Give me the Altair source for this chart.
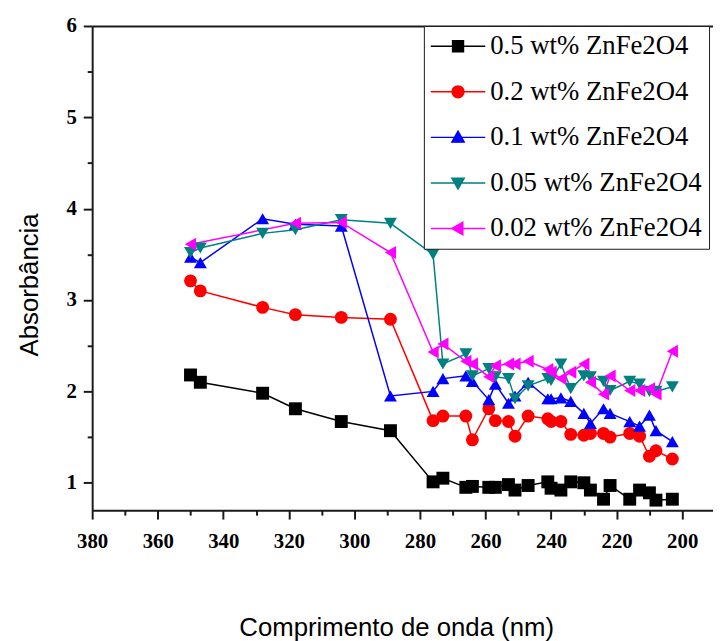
import altair as alt
import pandas as pd

# ---- data ----
wavelength = [350, 347, 328, 318, 304, 289, 276, 273, 266, 264, 259, 257, 253, 251,
              247, 241, 240, 237, 234, 230, 228, 224, 222, 216, 213, 210, 208, 203]
abs_05 = [2.18, 2.10, 1.98, 1.81, 1.67, 1.57, 1.01, 1.05, 0.95, 0.96, 0.95, 0.95, 0.98, 0.92,
          0.97, 1.01, 0.94, 0.92, 1.01, 1.00, 0.92, 0.82, 0.97, 0.82, 0.92, 0.89, 0.81, 0.82]
abs_02 = [3.21, 3.10, 2.92, 2.84, 2.81, 2.79, 1.68, 1.73, 1.73, 1.47, 1.81, 1.68, 1.67, 1.51,
          1.73, 1.70, 1.67, 1.67, 1.53, 1.52, 1.54, 1.54, 1.50, 1.54, 1.51, 1.29, 1.35, 1.26]
abs_01 = [3.47, 3.41, 3.89, 3.83, 3.81, 1.95, 2.00, 2.14, 2.17, 2.11, 1.91, 2.08, 1.87, 1.95,
          2.10, 1.92, 1.92, 1.93, 1.89, 1.76, 1.65, 1.81, 1.76, 1.67, 1.62, 1.74, 1.57, 1.45]
abs_005 = [3.52, 3.57, 3.73, 3.77, 3.88, 3.84, 3.50, 2.30, 2.41, 2.17, 2.25, 2.16, 2.14, 1.92,
           2.06, 2.14, 2.12, 2.30, 2.03, 2.17, 2.16, 2.11, 2.01, 2.11, 2.08, 2.00, 2.00, 2.05]
abs_002 = [3.61, None, None, 3.84, 3.85, 3.52, 2.43, 2.52, 2.33, 2.30, 2.16, 2.28, 2.30, 2.30,
           2.33, 2.24, 2.21, 2.14, 2.21, 2.30, 2.10, 1.97, 2.17, 2.01, 2.01, 2.03, 1.97, 2.44]

series_names = ["0.5 wt% ZnFe2O4", "0.2 wt% ZnFe2O4", "0.1 wt% ZnFe2O4",
                "0.05 wt% ZnFe2O4", "0.02 wt% ZnFe2O4"]
series_colors = ["#000000", "#ff0000", "#0000ff", "#008080", "#ff00ff"]
plot_shapes = ["square", "circle", "triangle-up", "triangle-down", "triangle-left"]
legend_shapes = [
    "M-2.75,0L2.75,0M-0.55,-0.55L0.55,-0.55L0.55,0.55L-0.55,0.55Z",
    "M-2.75,0L2.75,0M-0.6,0A0.6,0.6,0,1,0,0.6,0A0.6,0.6,0,1,0,-0.6,0Z",
    "M-2.75,0L2.75,0M-0.62,0.48L0.62,0.48L0,-0.62Z",
    "M-2.75,0L2.75,0M-0.62,-0.48L0.62,-0.48L0,0.62Z",
    "M-2.75,0L2.75,0M0.48,-0.62L0.48,0.62L-0.62,0Z",
]

x_ticks = [380, 360, 340, 320, 300, 280, 260, 240, 220, 200]
x_minor = [370, 350, 330, 310, 290, 270, 250, 230, 210]
y_ticks = [1, 2, 3, 4, 5, 6]
y_minor = [1.5, 2.5, 3.5, 4.5, 5.5]

rows = []
for name, vals in zip(series_names, [abs_05, abs_02, abs_01, abs_005, abs_002]):
    for w, v in zip(wavelength, vals):
        if v is not None:
            rows.append({"wavelength": w, "absorbance": v, "series": name})
df = pd.DataFrame(rows)

W, H = 627, 489
x_scale = alt.Scale(domain=[380, 190.6], nice=False, zero=False)
y_scale = alt.Scale(domain=[0.7, 6], nice=False, zero=False)
AX = "#1a1a1a"
SERIF = "Liberation Serif"
SANS = "Liberation Sans"

color_expr = "{" + ",".join("'%s':'%s'" % (n, c) for n, c in zip(series_names, series_colors)) + "}[datum.value]"

base = alt.Chart(df)

lines = base.mark_line(strokeWidth=1.5).encode(
    x=alt.X("wavelength:Q", scale=x_scale, axis=alt.Axis(
        orient="bottom", values=x_ticks, grid=False, labelFlush=False, labelOverlap=False,
        labelFont=SERIF, labelFontWeight="bold", labelFontSize=21, labelColor="black",
        labelPadding=12, tickSize=9, tickWidth=2, tickColor=AX, domainWidth=2, domainColor=AX,
        title="Comprimento de onda (nm)", titleFont=SANS, titleFontSize=26,
        titleFontWeight="normal", titleColor="black", titleX=307, titleY=119,
        titleBaseline="middle", titleAlign="center")),
    y=alt.Y("absorbance:Q", scale=y_scale, axis=alt.Axis(
        orient="left", values=y_ticks, grid=False,
        labelFont=SERIF, labelFontWeight="bold", labelFontSize=21, labelColor="black",
        labelPadding=7, tickSize=9, tickWidth=2, tickColor=AX, domainWidth=2, domainColor=AX,
        title="Absorbância", titleFont=SANS, titleFontSize=26,
        titleFontWeight="normal", titleColor="black", titleX=-63, titleY=261,
        titleBaseline="middle", titleAlign="center")),
    stroke=alt.Stroke("series:N", scale=alt.Scale(domain=series_names, range=series_colors), legend=None),
    detail="series:N",
)

points = base.mark_point(filled=True, size=170, opacity=1, strokeWidth=0).encode(
    x=alt.X("wavelength:Q", scale=x_scale, axis=None),
    y=alt.Y("absorbance:Q", scale=y_scale, axis=None),
    fill=alt.Fill("series:N", scale=alt.Scale(domain=series_names, range=series_colors), legend=None),
    shape=alt.Shape("series:N", scale=alt.Scale(domain=series_names, range=plot_shapes), legend=None),
)

leg = alt.Legend(
    title=None, orient="none", legendX=335, legendY=0, direction="vertical",
    strokeColor=AX, fillColor="white", padding=7,
    labelFont=SERIF, labelFontSize=27, labelColor="black", labelLimit=400,
    symbolSize=400, symbolStrokeWidth=1.5, symbolOffset=14, labelOffset=19,
    rowPadding=18, symbolOpacity=1,
    symbolFillColor={"expr": color_expr}, symbolStrokeColor={"expr": color_expr},
)

legend_layer = base.mark_point(filled=True, opacity=0).encode(
    x=alt.X("wavelength:Q", scale=x_scale, axis=alt.Axis(
        orient="top", labels=False, ticks=False, title=None, grid=False,
        domainWidth=2, domainColor=AX)),
    y=alt.Y("absorbance:Q", scale=y_scale, axis=alt.Axis(
        orient="left", values=y_minor, labels=False, domain=False, title=None, grid=False,
        tickSize=5, tickWidth=2, tickColor=AX)),
    fill=alt.Fill("series:N", scale=alt.Scale(domain=series_names, range=series_colors), legend=None),
    stroke=alt.Stroke("series:N", scale=alt.Scale(domain=series_names, range=series_colors), legend=None),
    shape=alt.Shape("series:N", scale=alt.Scale(domain=series_names, range=legend_shapes), legend=leg),
)

minor_x = base.mark_point(opacity=0).encode(
    x=alt.X("wavelength:Q", scale=x_scale, axis=alt.Axis(
        orient="bottom", values=x_minor, labels=False, domain=False, title=None, grid=False,
        tickSize=5, tickWidth=2, tickColor=AX)),
    y=alt.Y("absorbance:Q", scale=y_scale, axis=None),
)

chart = alt.layer(lines, points, legend_layer, minor_x).resolve_scale(
    shape="independent", fill="independent", stroke="independent"
).resolve_axis(
    x="independent", y="independent"
).properties(
    width=W, height=H, padding={"left": 9, "top": 4, "right": 0, "bottom": 0}
).configure(
    font=SERIF
).configure_view(stroke=None).configure_legend(
    labelFont=SERIF, labelFontSize=27
)

chart.save("out.html", embed_options={"renderer": "svg", "actions": False})
